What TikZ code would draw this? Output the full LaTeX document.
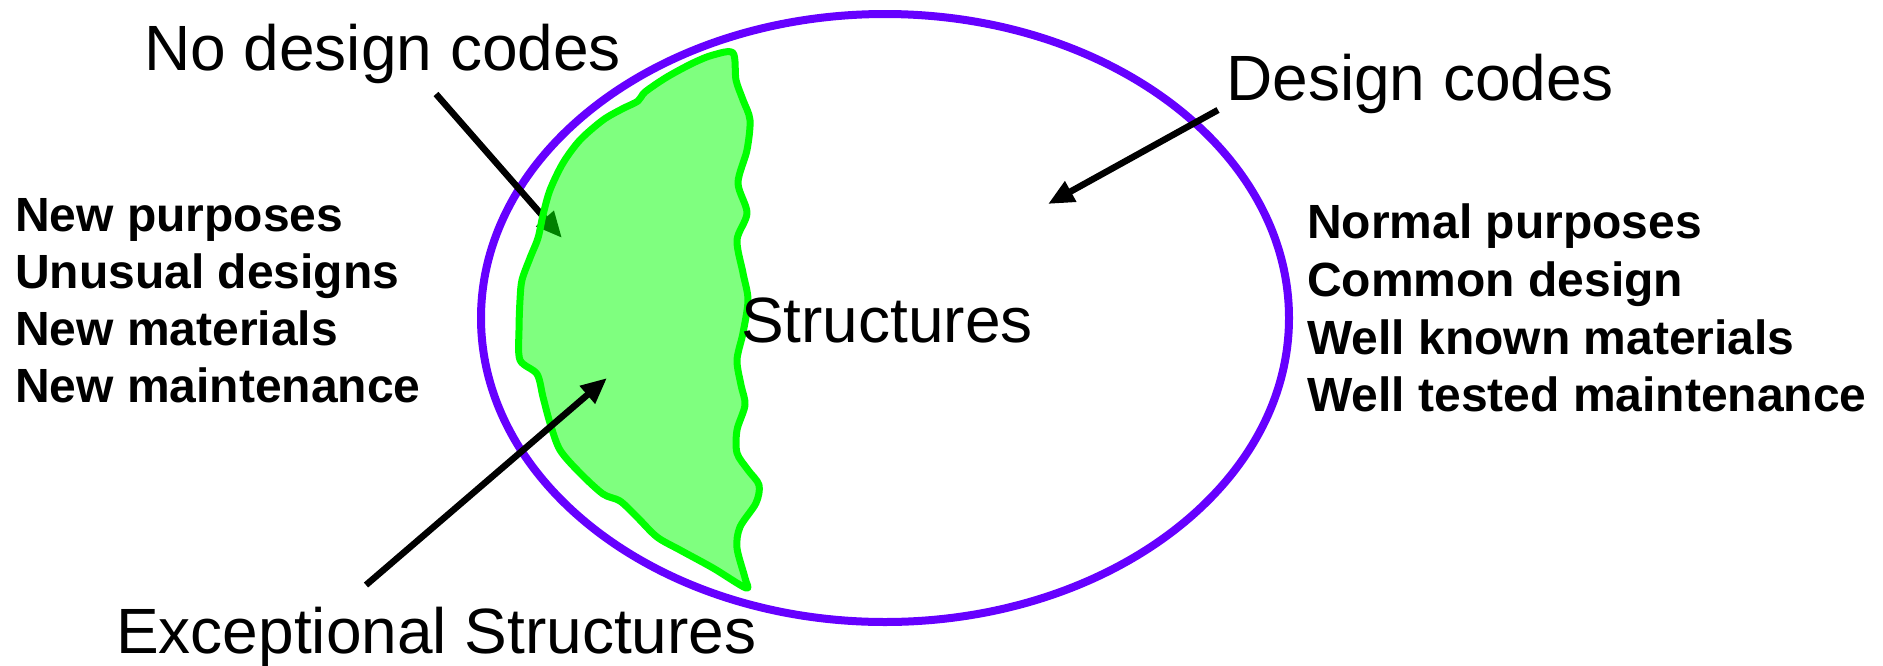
\documentclass[tikz,border=0pt]{standalone}
\usepackage{fontspec}
\setmainfont{Liberation Sans}
\usetikzlibrary{arrows.meta, positioning}
\definecolor{codeviolet}{RGB}{102,0,255}

\begin{document}
\begin{tikzpicture}[x=1pt, y=-1pt, >={Triangle[length=26pt, width=22pt]}]
    \tikzset{txt/.style = {anchor=base west, inner sep=0pt, font=\fontsize{64}{76}\selectfont}}
    \tikzset{bolditem/.style = {anchor=base west, inner sep=0pt, font=\fontsize{48}{57}\selectfont\bfseries}}
    \tikzset{pointer/.style = {draw, ->, line width=6.5pt}}
    \tikzset{codes/.style = {draw=codeviolet, line width=8pt}}
    \tikzset{blob/.style = {draw=green, line width=7pt, fill=green, fill opacity=0.5, line join=round}}
    \useasboundingbox (0,0) rectangle (1883,665);

    % Design codes region
    \draw [codes] (885,318) ellipse [x radius=404pt, y radius=304pt];

    % Labels
    \node [txt] (nocodes) at (144,70) {No design codes};
    \node [txt] (codes) at (1226,100) {Design codes};
    \node [txt] (exceptional) at (116,653) {Exceptional Structures};

    % Arrow end points
    \coordinate (nocodes-tail) at (436,94);
    \coordinate (nocodes-tip) at (562,238);
    \coordinate (exc-tail) at (366,585);
    \coordinate (exc-tip) at (607,378);
    \coordinate (codes-tail) at (1218,110);
    \coordinate (codes-tip) at (1048,204);

    \draw [pointer] (nocodes-tail) -- (nocodes-tip);

    % Exceptional structures (no design codes)
    \draw [blob] plot [smooth cycle, tension=0.5] coordinates {
        (733,53) (736,80) (743,100) (750,120) (747,150) (738,183) (747,213)
        (737,240) (743,273) (748,300) (743,333) (737,360) (741,385) (745,405)
        (737,430) (737,453) (748,470) (759,485) (756,503) (740,527) (737,548)
        (745,578) (746,588) (713,568) (680,550) (657,537) (637,517) (620,501)
        (603,494) (580,473) (560,450) (550,423) (543,397) (537,374) (520,360)
        (519,330) (520,300) (522,280) (530,258) (538,238) (543,215) (550,190)
        (563,163) (580,140) (603,120) (622,109) (638,101) (645,92) (667,77)
        (693,63) (713,55)};

    \node [txt] (structs) at (741,342) {Structures};

    \draw [pointer] (exc-tail) -- (exc-tip);
    \draw [pointer] (codes-tail) -- (codes-tip);

    % Properties outside / inside the codes
    \node [bolditem] (newpurp) at (15,231) {New purposes};
    \node [bolditem] (unusual) at (15,288) {Unusual designs};
    \node [bolditem] (newmat) at (15,345) {New materials};
    \node [bolditem] (newmaint) at (15,402) {New maintenance};

    \node [bolditem] (normal) at (1307,238) {Normal purposes};
    \node [bolditem] (common) at (1307,296) {Common design};
    \node [bolditem] (knownmat) at (1307,354) {Well known materials};
    \node [bolditem] (testedmaint) at (1307,411) {Well tested maintenance};
\end{tikzpicture}
\end{document}
